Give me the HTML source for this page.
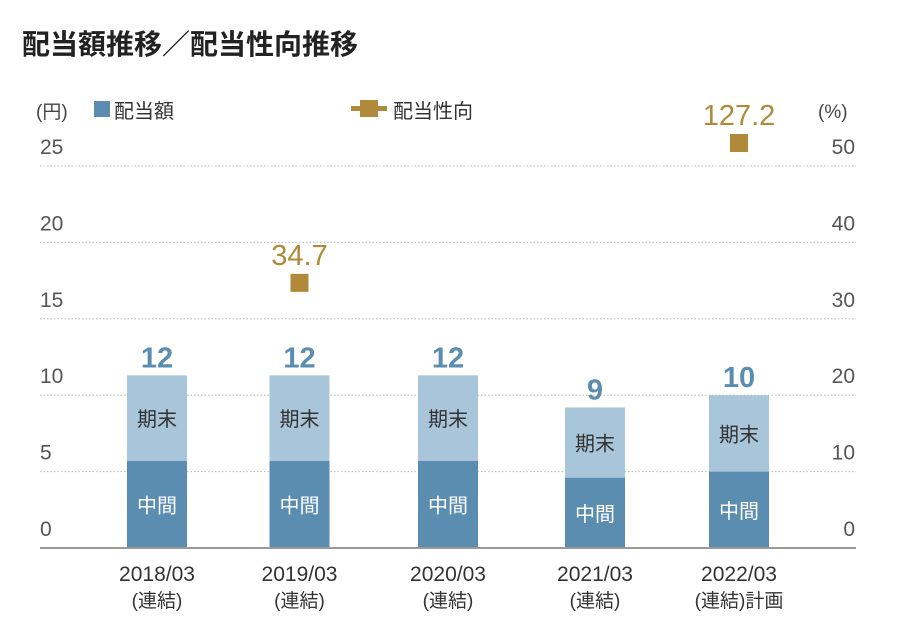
<!DOCTYPE html>
<html><head><meta charset="utf-8"><style>
body{margin:0;background:#fff;width:904px;height:612px;overflow:hidden;font-family:"Liberation Sans","Noto Sans CJK JP",sans-serif}
</style></head><body>
<svg id="c" width="904" height="612" xmlns="http://www.w3.org/2000/svg" font-family="Liberation Sans, Noto Sans CJK JP, sans-serif">
<text x="22" y="54" font-size="28" font-weight="bold" fill="#222">配当額推移／配当性向推移</text>
<text x="36" y="118" font-size="19" fill="#444">(円)</text>
<rect x="94" y="101" width="16" height="16" fill="#5b8db0"/>
<text x="114" y="118" font-size="20" fill="#333">配当額</text>
<rect x="351" y="106" width="36" height="5" fill="#b08a3a"/>
<rect x="360" y="100" width="18" height="17" fill="#b08a3a"/>
<text x="393" y="118" font-size="20" fill="#333">配当性向</text>
<text x="818" y="118" font-size="19" fill="#444">(%)</text>
<g id="g"></g>
</svg>
<script>
const categories=["2018/03","2019/03","2020/03","2021/03","2022/03"];
const subLabels=["(連結)","(連結)","(連結)","(連結)","(連結)計画"];
const totalValues=[11.3,11.3,11.3,9.2,10];
const interimValues=[5.7,5.7,5.7,4.6,5];
const totalLabels=["12","12","12","9","10"];
const payoutValues=[null,34.7,null,null,127.2];
const payoutLabels=[null,"34.7",null,null,"127.2"];
const leftTicks=[0,5,10,15,20,25];
const rightTicks=[0,10,20,30,40,50];
const NS="http://www.w3.org/2000/svg";
const g=document.getElementById('g');
const y0=548,ytop=166;
const yL=v=>y0-(y0-ytop)*v/25;
const yR=v=>y0-(y0-ytop)*v/50;
const xC=i=>157+i*145.5+(i===1?-3:0)+(i===3?1.5:0);
function el(t,a,txt){const e=document.createElementNS(NS,t);for(const k in a)e.setAttribute(k,a[k]);if(txt!=null)e.textContent=txt;g.appendChild(e);return e;}
leftTicks.forEach((t,i)=>{
 if(t>0){const l=el('line',{x1:40,x2:856,y1:yL(t),y2:yL(t),stroke:'#bbb','stroke-dasharray':'1.5 2'});
 
 }
 const tx=el('text',{x:40,y:yL(t)-12,'font-size':21,fill:'#555'},String(t));
 
 
});
rightTicks.forEach(t=>{
 const tx=el('text',{x:855,y:yR(t)-12,'font-size':21,fill:'#555','text-anchor':'end'},String(t));
 
 
});
categories.forEach((c,i)=>{
 const x=xC(i),w=60;
 const top=el('rect',{x:x-w/2,y:yL(totalValues[i]),width:w,height:yL(interimValues[i])-yL(totalValues[i]),fill:'#a8c5d9'});
 
 
 const bot=el('rect',{x:x-w/2,y:yL(interimValues[i]),width:w,height:y0-yL(interimValues[i]),fill:'#5b8db0'});
 
 
 const t1=el('text',{x:x,y:(yL(totalValues[i])+yL(interimValues[i]))/2+8,'font-size':20,fill:'#333','text-anchor':'middle'},'期末');
 
 
 const t2=el('text',{x:x,y:(yL(interimValues[i])+y0)/2+8,'font-size':20,fill:'#fff','text-anchor':'middle'},'中間');
 
 
 const t3=el('text',{x:x,y:yL(totalValues[i])-8,'font-size':29,'font-weight':'bold',fill:'#5b8db0','text-anchor':'middle'},totalLabels[i]);
 
 
 const c1=el('text',{x:x,y:581,'font-size':21,fill:'#333','text-anchor':'middle'},c);
 
 
 const c2=el('text',{x:x,y:607,'font-size':19,fill:'#333','text-anchor':'middle'},subLabels[i]);
 
 
 if(payoutValues[i]!=null){
  const py=Math.max(yR(payoutValues[i]),143);
  const m=el('rect',{x:x-9,y:py-9,width:18,height:18,fill:'#b08a3a'});
  
  
  const pl=el('text',{x:x,y:py-18,'font-size':29,fill:'#b08a3a','text-anchor':'middle'},payoutLabels[i]);
  
  
 }
});
const b=el('line',{x1:40,x2:856,y1:y0,y2:y0,stroke:'#999','stroke-width':2});


</script>
</body></html>
